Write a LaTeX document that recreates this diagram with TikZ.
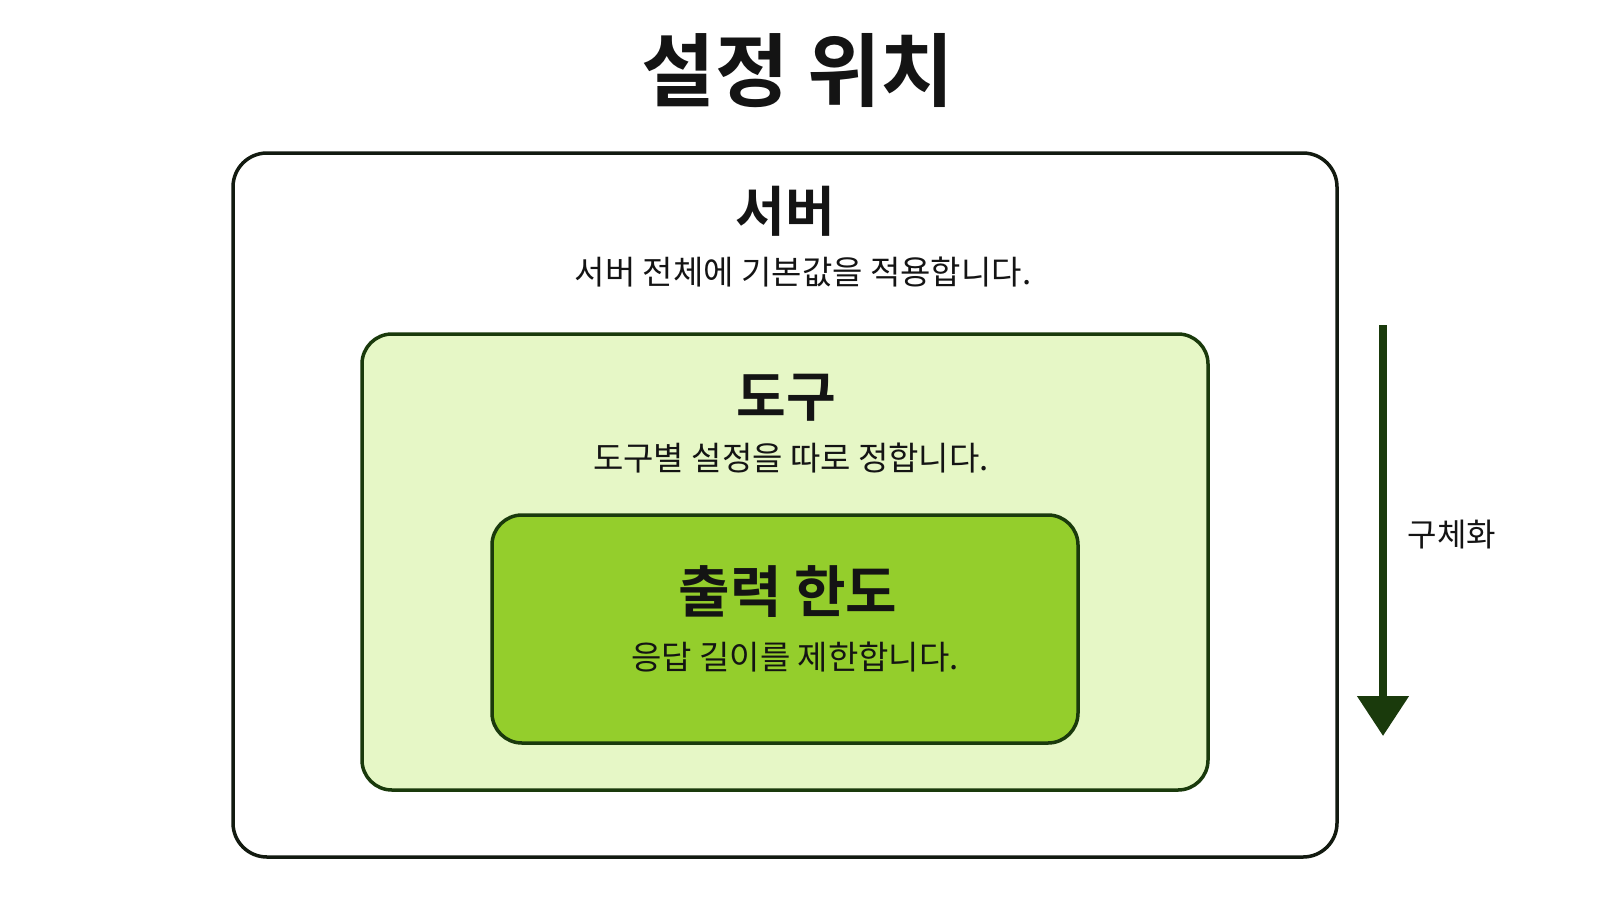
\documentclass[tikz,border=0pt]{standalone}
\usepackage{fontspec}
\setmainfont{Noto Sans CJK KR}[BoldFont={Noto Sans CJK KR Bold}]
\usetikzlibrary{arrows.meta}
\definecolor{ink}{HTML}{141414}
\definecolor{dkgreen}{HTML}{1A3A0C}
\definecolor{lightfill}{HTML}{E6F7C6}
\definecolor{midfill}{HTML}{94CE2C}
\definecolor{outline}{HTML}{121A10}
\tikzset{
  panel/.style={rounded corners=30pt, line width=3.5pt, inner sep=0pt},
  heading/.style={font=\fontsize{54}{60}\selectfont\bfseries, text=ink, inner sep=0pt},
  subtext/.style={font=\fontsize{33}{40}\selectfont, text=ink, inner sep=0pt},
  arr/.style={draw=dkgreen, line width=8pt, -{Triangle[width=50pt,length=40pt]}}
}
\begin{document}
\begin{tikzpicture}[x=1pt,y=-1pt]
\useasboundingbox[fill=white] (0,0) rectangle (1600,900);
\node[font=\fontsize{80}{88}\selectfont\bfseries, text=ink, inner sep=0pt] (title) at (798,71) {설정 위치};
\node[panel, draw=outline, fill=white, minimum width=1104pt, minimum height=704pt, rounded corners=34pt] (server) at (785,505) {};
\node[panel, draw=dkgreen, fill=lightfill, minimum width=846pt, minimum height=456pt] (tool) at (785,562) {};
\node[panel, draw=dkgreen, fill=midfill, minimum width=586pt, minimum height=228pt] (limit) at (785,629) {};
\node[heading] (servert) at (785,211) {서버};
\node[subtext] (servers) at (803,272) {서버 전체에 기본값을 적용합니다.};
\node[heading] (toolt) at (786,398) {도구};
\node[subtext] (tools) at (791,458) {도구별 설정을 따로 정합니다.};
\node[heading, font=\fontsize{56}{62}\selectfont\bfseries] (limitt) at (788,592) {출력 한도};
\node[subtext] (limits) at (795,657) {응답 길이를 제한합니다.};
\coordinate (atop) at (1383,325);
\coordinate (abot) at (1383,736);
\draw[arr] (atop) -- (abot);
\node[subtext, font=\fontsize{32}{38}\selectfont] (spec) at (1452,535) {구체화};
\end{tikzpicture}
\end{document}
